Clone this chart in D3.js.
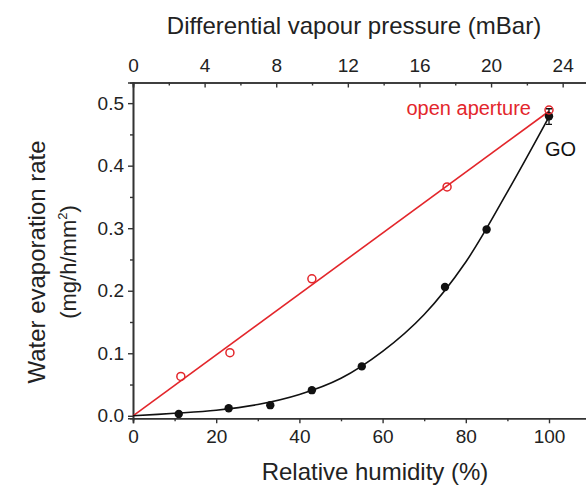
<!DOCTYPE html>
<html>
<head>
<meta charset="utf-8">
<script src="https://cdn.jsdelivr.net/npm/d3@7"></script>
<style>
  body { margin: 0; background: #fff; }
  svg { display: block; font-family: Arial, "Liberation Sans", sans-serif; }
</style>
</head>
<body>
<div id="plot-container"></div>
<script>
// Relative humidity (%) of each measurement
const goHumidity = [11, 23, 33, 43, 55, 75, 85, 100];
const goRate = [0.003, 0.012, 0.017, 0.041, 0.079, 0.206, 0.298, 0.479];
const openHumidity = [11.5, 23.3, 43, 75.5, 100];
const openRate = [0.063, 0.101, 0.219, 0.366, 0.489];

// fitted lines
const openFitX = [0, 100];
const openFitY = [0, 0.487];
const goFitX = [0, 10, 20, 30, 40, 50, 60, 70, 80, 90, 100];
const goFitY = [0, 0.004, 0.009, 0.018, 0.034, 0.06, 0.103, 0.162, 0.246, 0.358, 0.478];

const xTicks = [0, 20, 40, 60, 80, 100];
const topTicks = [0, 4, 8, 12, 16, 20, 24];
const yTicks = [0, 0.1, 0.2, 0.3, 0.4, 0.5];

const red = '#e3262b';
const axisColor = '#333';

const width = 586, height = 485;
const margin = { top: 82.5, left: 133, bottom: 66.7 };

const svg = d3.select('#plot-container')
  .append('svg')
  .attr('width', width)
  .attr('height', height);

const x = d3.scaleLinear().domain([0, 110]).range([margin.left, 590.6]);
const xTop = d3.scaleLinear().domain([0, 25.56]).range([margin.left, 590.6]);
const y = d3.scaleLinear().domain([-0.004, 0.533]).range([height - margin.bottom, margin.top]);

const y0 = y.range()[0], y1 = y.range()[1];

// bottom axis, ticks pointing out
svg.append('g')
  .attr('transform', `translate(0,${y0})`)
  .call(d3.axisBottom(x).tickValues(xTicks).tickSize(5).tickPadding(6).tickFormat(d3.format('d')));
svg.append('g')
  .attr('transform', `translate(0,${y0})`)
  .call(d3.axisBottom(x).tickValues([10, 30, 50, 70, 90]).tickSize(3).tickFormat(''));

// top axis, ticks pointing in
svg.append('g')
  .attr('transform', `translate(0,${y1})`)
  .call(d3.axisTop(xTop).tickValues(topTicks).tickSize(-5).tickPadding(11).tickFormat(d3.format('d')));
svg.append('g')
  .attr('transform', `translate(0,${y1})`)
  .call(d3.axisTop(xTop).tickValues([2, 6, 10, 14, 18, 22]).tickSize(-3).tickFormat(''));

// left axis
svg.append('g')
  .attr('transform', `translate(${margin.left},0)`)
  .call(d3.axisLeft(y).tickValues(yTicks).tickSize(5).tickPadding(4).tickFormat(d3.format('.1f')));
svg.append('g')
  .attr('transform', `translate(${margin.left},0)`)
  .call(d3.axisLeft(y).tickValues([0.05, 0.15, 0.25, 0.35, 0.45]).tickSize(3).tickFormat(''));

svg.selectAll('.domain').attr('stroke', axisColor).attr('stroke-width', 1.6);
svg.selectAll('.tick line').attr('stroke', axisColor).attr('stroke-width', 1.4);
svg.selectAll('.tick text').attr('fill', '#222').style('font-size', '19px');

// axis titles
svg.append('text')
  .attr('x', 354).attr('y', 34)
  .attr('text-anchor', 'middle')
  .style('font-size', '24px').attr('fill', '#222')
  .text('Differential vapour pressure (mBar)');

svg.append('text')
  .attr('x', 375).attr('y', 480)
  .attr('text-anchor', 'middle')
  .style('font-size', '24px').attr('fill', '#222')
  .text('Relative humidity (%)');

svg.append('text')
  .attr('transform', 'translate(45,262) rotate(-90)')
  .attr('text-anchor', 'middle')
  .style('font-size', '24px').attr('fill', '#222')
  .text('Water evaporation rate');

const unit = svg.append('text')
  .attr('transform', 'translate(76,262) rotate(-90)')
  .attr('text-anchor', 'middle')
  .style('font-size', '22px').attr('fill', '#222');
unit.append('tspan').text('(mg/h/mm');
unit.append('tspan').attr('dy', -9).style('font-size', '13px').text('2');
unit.append('tspan').attr('dy', 9).text(')');

// fitted lines
const line = d3.line().x(d => x(d[0])).y(d => y(d[1]));

svg.append('path')
  .datum(openFitX.map((v, i) => [v, openFitY[i]]))
  .attr('d', line)
  .attr('fill', 'none')
  .attr('stroke', red)
  .attr('stroke-width', 1.6);

svg.append('path')
  .datum(goFitX.map((v, i) => [v, goFitY[i]]))
  .attr('d', line.curve(d3.curveCatmullRom))
  .attr('fill', 'none')
  .attr('stroke', '#111')
  .attr('stroke-width', 1.6);

// error bar on the last GO point
const errX = x(100);
svg.append('path')
  .attr('d', `M${errX},${y(0.491)}V${y(0.466)}M${errX - 3},${y(0.491)}H${errX + 3}M${errX - 3},${y(0.466)}H${errX + 3}`)
  .attr('stroke', '#111')
  .attr('stroke-width', 1.3)
  .attr('fill', 'none');

// markers
svg.selectAll('.go')
  .data(goHumidity)
  .join('circle')
  .attr('class', 'go')
  .attr('cx', d => x(d))
  .attr('cy', (d, i) => y(goRate[i]))
  .attr('r', 4.2)
  .attr('fill', '#111');

svg.selectAll('.open')
  .data(openHumidity)
  .join('circle')
  .attr('class', 'open')
  .attr('cx', d => x(d))
  .attr('cy', (d, i) => y(openRate[i]))
  .attr('r', 4)
  .attr('fill', 'none')
  .attr('stroke', red)
  .attr('stroke-width', 1.5);

// labels
svg.append('text')
  .attr('x', 531).attr('y', 115)
  .attr('text-anchor', 'end')
  .style('font-size', '20px')
  .attr('fill', red)
  .text('open aperture');

svg.append('text')
  .attr('x', 545).attr('y', 156)
  .style('font-size', '20px')
  .attr('fill', '#111')
  .text('GO');
</script>
</body>
</html>
